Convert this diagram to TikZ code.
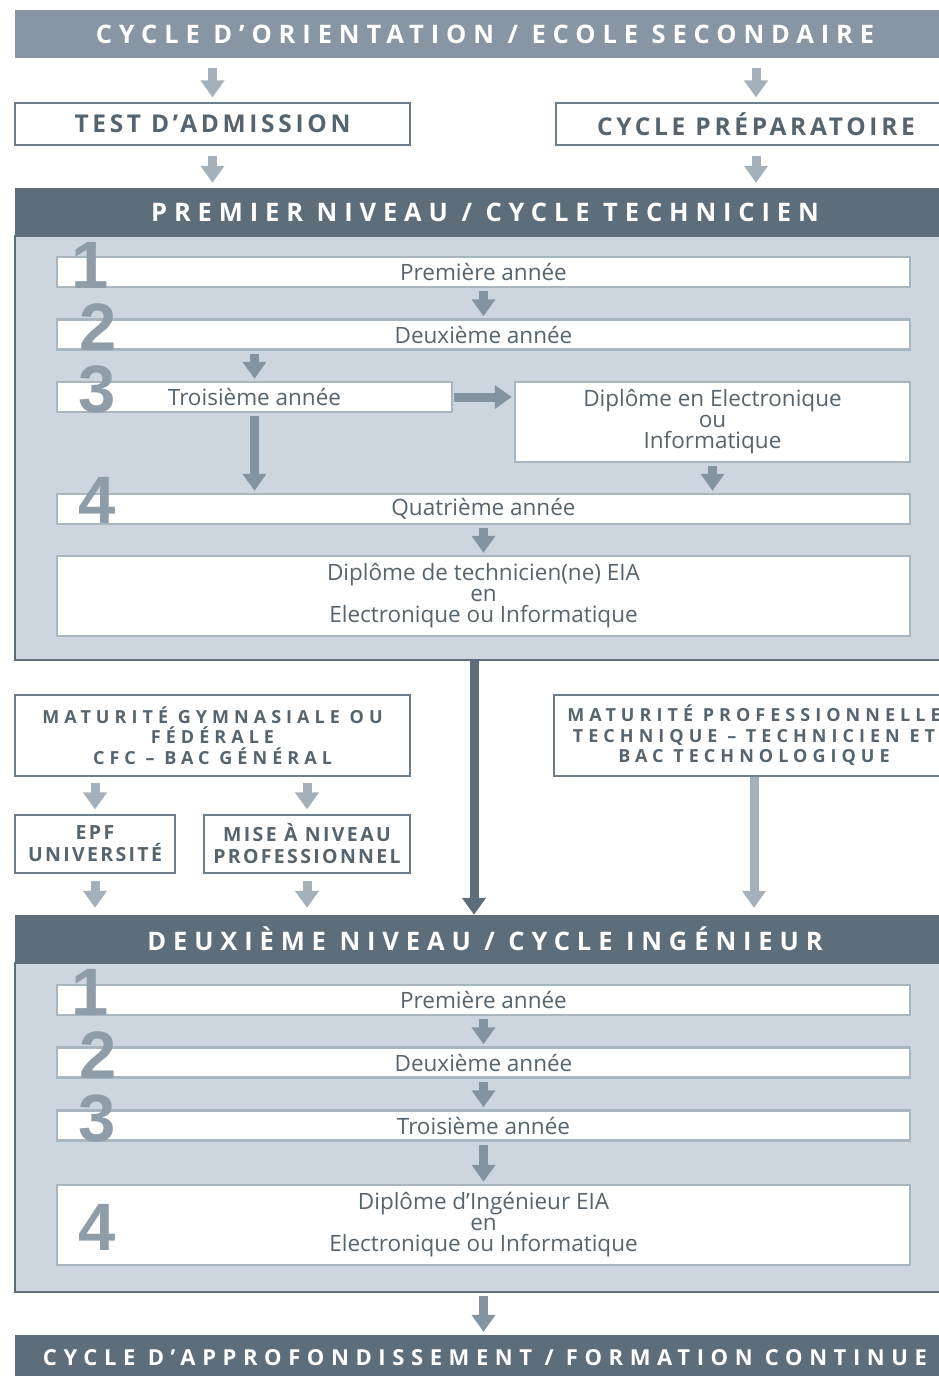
\documentclass[tikz,border=0pt]{standalone}
\usepackage{fontspec}
\setmainfont{Open Sans}
\newfontfamily\capsfont{Open Sans}
\newfontfamily\digitfont{Liberation Sans}
\usetikzlibrary{arrows.meta}

\definecolor{bannerlight}{HTML}{8796A2}
\definecolor{bannerdark}{HTML}{5D6E7A}
\definecolor{panelfill}{HTML}{CDD6DE}
\definecolor{arrowlight}{HTML}{A4B1BB}
\definecolor{arrowmid}{HTML}{8394A0}
\definecolor{rowline}{HTML}{A8B6C0}
\definecolor{boxline}{HTML}{6F7E89}
\definecolor{inktext}{HTML}{56646F}
\definecolor{digitgray}{HTML}{8E9DA8}

\tikzset{
	banner/.style={fill=bannerdark, text=white, minimum width=940pt, minimum height=48pt, inner sep=0pt,
		font=\capsfont\bfseries\addfontfeature{LetterSpace=27}\fontsize{25.5}{25.5}\selectfont},
	panel/.style={fill=panelfill, draw=bannerdark, line width=2pt, minimum width=945pt, inner sep=0pt},
	entry/.style={fill=white, draw=boxline, line width=1.2pt, inner sep=0pt, align=center, text=inktext,
		font=\capsfont\bfseries\addfontfeature{LetterSpace=15}\fontsize{24.5}{24.5}\selectfont},
	smallentry/.style={entry, font=\capsfont\bfseries\addfontfeature{LetterSpace=28}\fontsize{18}{20.5}\selectfont},
	twoline/.style={entry, font=\capsfont\bfseries\addfontfeature{LetterSpace=12}\fontsize{19.5}{22}\selectfont},
	row/.style={fill=white, draw=rowline, line width=2.5pt, inner sep=0pt, align=center, text=inktext,
		minimum width=853pt, minimum height=30pt, font=\fontsize{22.5}{21}\selectfont},
	digit/.style={text=digitgray, inner sep=0pt, anchor=base, font=\digitfont\bfseries\fontsize{67}{67}\selectfont},
	arr/.style={line width=9pt, -{Triangle[width=23pt,length=17pt]}},
	arrlight/.style={arr, arrowlight, shorten <=10pt, shorten >=5pt},
	arrmid/.style={arr, arrowmid, shorten <=3pt, shorten >=2pt},
	arrdark/.style={arr, bannerdark}
}

\begin{document}
\begin{tikzpicture}[x=1pt, y=-1pt]
	\useasboundingbox (0,0) rectangle (939,1376);
	\clip (0,0) rectangle (939,1376);

	% entree
	\node[banner, fill=bannerlight] (orient) at (485,34) {CYCLE D’ORIENTATION / ECOLE SECONDAIRE};
	\node[entry, minimum width=395pt, minimum height=42pt] (admission) at (212.5,124) {TEST D’ADMISSION};
	\node[entry, minimum width=400pt, minimum height=42pt] (prepa) at (756,124) {CYCLE PRÉPARATOIRE};

	\draw[arrlight] (orient.south -| admission.north) -- (admission.north);
	\draw[arrlight] (orient.south -| prepa.north) -- (prepa.north);

	% premier niveau
	\node[banner] (niveauA) at (485,212) {PREMIER NIVEAU / CYCLE TECHNICIEN};
	\node[panel, minimum height=424pt] (panelA) at (487.5,448) {};

	\draw[arrlight] (admission.south) -- (admission.south |- niveauA.north);
	\draw[arrlight] (prepa.south) -- (prepa.south |- niveauA.north);

	\node[row] (anA1) at (483.5,272) {Première année};
	\node[row] (anA2) at (483.5,334.5) {Deuxième année};
	\node[row, minimum width=395pt] (anA3) at (254.5,397) {Troisième année};
	\node[row, minimum width=395pt, minimum height=80pt] (diplA) at (712.5,422)
		{Diplôme en Electronique\\ou\\Informatique};
	\node[row] (anA4) at (483.5,509) {Quatrième année};
	\node[row, minimum height=80pt] (techA) at (483.5,596)
		{Diplôme de technicien(ne) EIA\\en\\Electronique ou Informatique};

	\draw[arrmid] (anA1.south) -- (anA2.north);
	\draw[arrmid] (anA2.south -| anA3.north) -- (anA3.north);
	\draw[arrmid, shorten <=1pt] (anA3.east) -- (anA3.east -| diplA.west);
	\draw[arrmid] (anA3.south) -- (anA3.south |- anA4.north);
	\draw[arrmid] (diplA.south) -- (diplA.south |- anA4.north);
	\draw[arrmid] (anA4.south) -- (techA.north);

	\node[digit] (dA1) at (90,288) {1};
	\node[digit] (dA2) at (98,350) {2};
	\node[digit] (dA3) at (97,412) {3};
	\node[digit] (dA4) at (97,523) {4};

	% admissions directes
	\node[smallentry, minimum width=395pt, minimum height=81pt] (gymna) at (212.5,735.5)
		{MATURITÉ GYMNASIALE OU\\FÉDÉRALE\\CFC – BAC GÉNÉRAL};
	\node[smallentry, minimum width=400pt, minimum height=81pt] (maturite) at (754,735.5)
		{MATURITÉ PROFESSIONNELLE\\TECHNIQUE – TECHNICIEN ET\\BAC TECHNOLOGIQUE};
	\node[twoline, minimum width=160pt, minimum height=58pt] (epf) at (95,844)
		{EPF\\UNIVERSITÉ};
	\node[twoline, minimum width=206pt, minimum height=58pt] (remise) at (307,844)
		{MISE À NIVEAU\\PROFESSIONNEL};

	\node[banner] (niveauB) at (485,939) {DEUXIÈME NIVEAU / CYCLE INGÉNIEUR};

	\coordinate (sortieA) at (474,660);
	\draw[arrdark] (sortieA) -- (sortieA |- niveauB.north);

	\draw[arrlight, shorten <=6pt] (gymna.south -| epf.north) -- (epf.north);
	\draw[arrlight, shorten <=6pt] (gymna.south -| remise.north) -- (remise.north);
	\draw[arrlight, shorten <=7pt, shorten >=7pt] (epf.south) -- (epf.south |- niveauB.north);
	\draw[arrlight, shorten <=7pt, shorten >=7pt] (remise.south) -- (remise.south |- niveauB.north);
	\draw[arrlight, shorten <=0pt, shorten >=7pt] (maturite.south) -- (maturite.south |- niveauB.north);

	% deuxieme niveau
	\node[panel, minimum height=329pt] (panelB) at (487.5,1127.5) {};

	\node[row] (anB1) at (483.5,1000) {Première année};
	\node[row] (anB2) at (483.5,1062.5) {Deuxième année};
	\node[row] (anB3) at (483.5,1125.5) {Troisième année};
	\node[row, minimum height=80pt] (ingB) at (483.5,1225)
		{Diplôme d’Ingénieur EIA\\en\\Electronique ou Informatique};

	\draw[arrmid] (anB1.south) -- (anB2.north);
	\draw[arrmid] (anB2.south) -- (anB3.north);
	\draw[arrmid] (anB3.south) -- (ingB.north);

	\node[digit] (dB1) at (90,1015) {1};
	\node[digit] (dB2) at (98,1078) {2};
	\node[digit] (dB3) at (97,1141) {3};
	\node[digit] (dB4) at (97,1250) {4};

	% sortie
	\node[banner, minimum height=46pt, font=\capsfont\bfseries\addfontfeature{LetterSpace=30}\fontsize{22}{22}\selectfont] (suite) at (485,1358) {CYCLE D’APPROFONDISSEMENT / FORMATION CONTINUE};
	\draw[arrmid, shorten <=3pt, shorten >=3pt] (panelB.south -| ingB.south) -- (suite.north -| ingB.south);
\end{tikzpicture}
\end{document}
